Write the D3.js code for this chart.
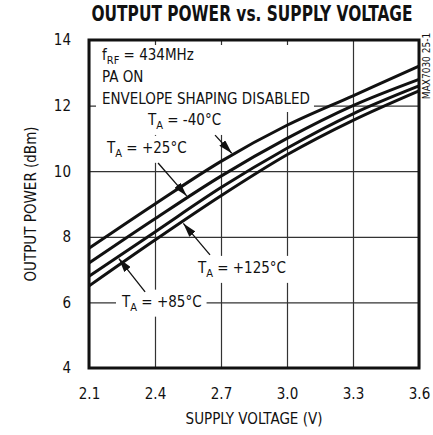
<!DOCTYPE html>
<html>
<head>
<meta charset="utf-8">
<script src="https://cdn.jsdelivr.net/npm/d3@7"></script>
<style>
  body { margin: 0; background: #fff; }
  svg text { font-family: "Liberation Sans Narrow", "DejaVu Sans Condensed", "Roboto Condensed", sans-serif; fill: #111; }
</style>
</head>
<body>
<div id="chart"></div>
<script>
// data
var voltages = [2.1, 2.4, 2.7, 3.0, 3.3, 3.6];
var powerM40 = [7.65, 9.0, 10.3, 11.4, 12.3, 13.2];
var powerP25 = [7.2, 8.55, 9.85, 11.0, 12.0, 12.8];
var powerP85 = [6.8, 8.15, 9.5, 10.7, 11.75, 12.6];
var powerP125 = [6.5, 7.9, 9.25, 10.5, 11.55, 12.45];
var yTicks = [4, 6, 8, 10, 12, 14];
var seriesNames = ["-40", "+25", "+85", "+125"];
var seriesValues = [powerM40, powerP25, powerP85, powerP125];

// labels: text, anchor point (V, dBm), arrow tail (V, dBm), arrow tip voltage and series
var tempLabels = [
	{ t: "-40°C", at: [2.368, 11.41], tail: [2.673, 11.10], tipV: 2.755, s: 0 },
	{ t: "+25°C", at: [2.182, 10.56], tail: [2.414, 10.25], tipV: 2.55, s: 1 },
	{ t: "+125°C", at: [2.595, 6.90], tail: [2.650, 7.45], tipV: 2.523, s: 3 },
	{ t: "+85°C", at: [2.250, 5.87], tail: [2.355, 6.32], tipV: 2.23, s: 2 }
];

var W = 433, H = 435;
var margin = { top: 40, right: 14, bottom: 67, left: 89 },
	width = W - margin.left - margin.right,
	height = H - margin.top - margin.bottom;

var svg = d3.select("#chart")
	.append("svg")
	.attr("width", W)
	.attr("height", H);

var g = svg.append("g")
	.attr("transform", "translate(" + margin.left + "," + margin.top + ")");

var x = d3.scaleLinear().domain([2.1, 3.6]).range([0, width]);
var y = d3.scaleLinear().domain([4, 14]).range([height, 0]);

// grid
g.append("g")
	.attr("class", "grid")
	.attr("transform", "translate(0," + height + ")")
	.call(d3.axisBottom(x).tickValues(voltages).tickSize(-height).tickFormat(""))
	.call(function (a) { a.select(".domain").remove(); });
g.append("g")
	.attr("class", "grid")
	.call(d3.axisLeft(y).tickValues(yTicks).tickSize(-width).tickFormat(""))
	.call(function (a) { a.select(".domain").remove(); });
g.selectAll(".grid line").attr("stroke", "#333").attr("stroke-width", 1.2);

// tick labels
var xAxis = g.append("g")
	.attr("transform", "translate(0," + height + ")")
	.call(d3.axisBottom(x).tickValues(voltages).tickSize(0).tickPadding(20).tickFormat(d3.format(".1f")));
var yAxis = g.append("g")
	.call(d3.axisLeft(y).tickValues(yTicks).tickSize(0).tickPadding(18).tickFormat(d3.format("d")));
xAxis.select(".domain").remove();
yAxis.select(".domain").remove();
g.selectAll(".tick text").style("font-size", "15px").attr("fill", "#111");

// annotation block top-left
var note = g.append("g");
var noteText = note.append("text")
	.attr("x", 13)
	.attr("y", 20)
	.style("font-size", "15px");
noteText.append("tspan").text("f");
noteText.append("tspan").attr("dy", 4).style("font-size", "11px").text("RF");
noteText.append("tspan").attr("dy", -4).text(" = 434MHz");
note.append("text").attr("x", 13).attr("y", 42).style("font-size", "15px").text("PA ON");
note.append("text").attr("x", 13).attr("y", 64).style("font-size", "15px").text("ENVELOPE SHAPING DISABLED");
var nb = note.node().getBBox();
note.insert("rect", ":first-child")
	.attr("x", nb.x - 6).attr("y", nb.y - 1)
	.attr("width", nb.width + 10).attr("height", nb.height + 5)
	.attr("fill", "#fff");

// temperature labels (boxes behind, hiding the grid)
var labelGroups = tempLabels.map(function (d) {
	var lg = g.append("g");
	var t = lg.append("text")
		.attr("x", x(d.at[0]))
		.attr("y", y(d.at[1]))
		.style("font-size", "15px");
	t.append("tspan").text("T");
	t.append("tspan").attr("dy", 4).style("font-size", "11px").text("A");
	t.append("tspan").attr("dy", -4).text(" = " + d.t);
	var b = lg.node().getBBox();
	lg.insert("rect", ":first-child")
		.attr("x", b.x - 5).attr("y", b.y - 3)
		.attr("width", b.width + 10).attr("height", b.height + 6)
		.attr("fill", "#fff");
	return lg;
});

// curves
var line = d3.line()
	.x(function (d) { return x(d[0]); })
	.y(function (d) { return y(d[1]); })
	.curve(d3.curveMonotoneX);

g.selectAll(".curve")
	.data(seriesValues)
	.enter()
	.append("path")
	.attr("class", "curve")
	.attr("d", function (vals) { return line(voltages.map(function (v, i) { return [v, vals[i]]; })); })
	.attr("fill", "none")
	.attr("stroke", "#111")
	.attr("stroke-width", 3);

// bring labels above curves
labelGroups.forEach(function (lg) { lg.raise(); });

// arrows
svg.append("defs").append("marker")
	.attr("id", "head")
	.attr("viewBox", "0 0 14 8")
	.attr("refX", 14).attr("refY", 4)
	.attr("markerWidth", 14).attr("markerHeight", 8)
	.attr("markerUnits", "userSpaceOnUse")
	.attr("orient", "auto")
	.append("path")
	.attr("d", "M0,0 L14,4 L0,8 Z")
	.attr("fill", "#111");

function valueAt(vals, v) {
	return d3.scaleLinear().domain(voltages).range(vals)(v);
}

tempLabels.forEach(function (d) {
	var x1 = x(d.tail[0]), y1 = y(d.tail[1]);
	var x2 = x(d.tipV), y2 = y(valueAt(seriesValues[d.s], d.tipV));
	var dx = x2 - x1, dy = y2 - y1, len = Math.sqrt(dx * dx + dy * dy);
	// stop the tip at the stroke edge
	x2 -= dx / len * 2; y2 -= dy / len * 2;
	g.append("line")
		.attr("x1", x1).attr("y1", y1)
		.attr("x2", x2).attr("y2", y2)
		.attr("stroke", "#111")
		.attr("stroke-width", 1.3)
		.attr("marker-end", "url(#head)");
});

// frame
g.append("rect")
	.attr("width", width)
	.attr("height", height)
	.attr("fill", "none")
	.attr("stroke", "#111")
	.attr("stroke-width", 3);

// titles
svg.append("text")
	.attr("transform", "translate(252,21) scale(1,1.2)")
	.attr("text-anchor", "middle")
	.attr("textLength", 321)
	.attr("lengthAdjust", "spacingAndGlyphs")
	.style("font-size", "17px")
	.style("font-weight", "bold")
	.text("OUTPUT POWER vs. SUPPLY VOLTAGE");

svg.append("text")
	.attr("x", margin.left + width / 2)
	.attr("y", 424)
	.attr("text-anchor", "middle")
	.style("font-size", "15px")
	.text("SUPPLY VOLTAGE (V)");

svg.append("text")
	.attr("transform", "translate(36," + (margin.top + height / 2) + ") rotate(-90)")
	.attr("text-anchor", "middle")
	.style("font-size", "15px")
	.text("OUTPUT POWER (dBm)");

svg.append("text")
	.attr("transform", "translate(430,66) rotate(-90)")
	.attr("text-anchor", "middle")
	.style("font-size", "10px")
	.text("MAX7030 25-1");
</script>
</body>
</html>
